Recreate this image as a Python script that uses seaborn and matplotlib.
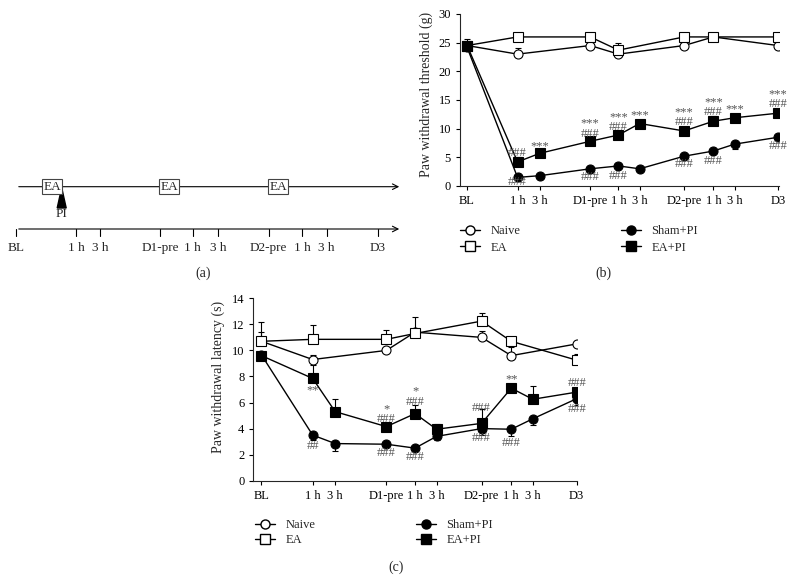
import numpy as np
import pandas as pd
import matplotlib
matplotlib.use("Agg")
import matplotlib.pyplot as plt
from matplotlib.lines import Line2D
from matplotlib.patches import Polygon
import seaborn as sns

nan = np.nan

# time points shared by all panels
time_labels = ["BL", "1 h", "3 h", "D1-pre", "1 h", "3 h", "D2-pre", "1 h", "3 h", "D3"]
x_pos = [0, 5.0, 7.2, 12.2, 15.0, 17.1, 21.5, 24.4, 26.5, 30.8]
groups = ["Naive", "EA", "Sham+PI", "EA+PI"]

# (b) paw withdrawal threshold (g)
naive_b = [24.5, 23.0, nan, 24.5, 23.0, nan, 24.5, 26.0, nan, 24.5]
naive_b_lo = [0, 0, nan, 0, 0, nan, 0, 0, nan, 0]
naive_b_hi = [0, 1.0, nan, 0, 0, nan, 0, 0, nan, 0]
ea_b = [24.5, 26.0, nan, 26.0, 23.7, nan, 26.0, 26.0, nan, 26.0]
ea_b_lo = [0, 0, nan, 0, 0, nan, 0, 0, nan, 0]
ea_b_hi = [1.1, 0, nan, 0, 1.3, nan, 0, 0, nan, 0]
sham_b = [24.2, 1.5, 1.8, 3.0, 3.5, 3.0, 5.2, 6.1, 7.3, 8.5]
sham_b_lo = [0, 0.5, 0.6, 0, 0, 0, 0, 0, 0.8, 0]
sham_b_hi = [0, 0, 0, 0.5, 0.5, 0, 0.4, 0.4, 0, 0.3]
eapi_b = [24.5, 4.2, 5.7, 7.8, 8.9, 10.9, 9.6, 11.3, 11.9, 12.7]
eapi_b_lo = [0, 0, 0, 0, 0, 0, 0, 0, 0, 0]
eapi_b_hi = [0, 0.9, 0.4, 0.4, 0.3, 0.3, 0.4, 0.9, 0.3, 0.8]
annot_b = [(1, 5.7, "###"), (1, 0.7, "###"), (2, 7.0, "***"),
           (3, 10.0, "***\n###"), (3, 1.6, "###"),
           (4, 11.2, "***\n###"), (4, 1.8, "###"),
           (5, 12.3, "***"), (6, 12.0, "***\n###"), (6, 3.8, "###"),
           (7, 13.8, "***\n###"), (7, 4.4, "###"), (8, 13.4, "***"),
           (9, 15.2, "***\n###"), (9, 6.9, "###")]

# (c) paw withdrawal latency (s)
naive_c = [10.7, 9.3, nan, 10.0, 11.4, nan, 11.0, 9.6, nan, 10.5]
naive_c_lo = [0, 0, nan, 0, 0, nan, 0, 0, nan, 0]
naive_c_hi = [0.75, 0.35, nan, 0, 0, nan, 0.5, 0.7, nan, 0]
ea_c = [10.7, 10.85, nan, 10.85, 11.3, nan, 12.25, 10.7, nan, 9.25]
ea_c_lo = [0, 0, nan, 0, 0, nan, 0, 0, nan, 0]
ea_c_hi = [1.5, 1.1, nan, 0.7, 1.25, nan, 0.65, 0, nan, 0.45]
sham_c = [9.65, 3.5, 2.85, 2.8, 2.5, 3.4, 4.0, 3.95, 4.75, 6.3]
sham_c_lo = [0, 0.4, 0.6, 0, 0, 0.25, 0.5, 0.55, 0.5, 0.5]
sham_c_hi = [0, 0, 0, 0, 0, 0, 0, 0, 0, 0]
eapi_c = [9.6, 7.85, 5.3, 4.15, 5.15, 3.95, 4.4, 7.1, 6.25, 6.8]
eapi_c_lo = [0, 0, 0, 0, 0, 0, 0, 0, 0, 0]
eapi_c_hi = [0, 1.05, 1.0, 0, 0.65, 0.4, 1.1, 0.35, 1.05, 0.2]
annot_c = [(1, 6.95, "**"), (1, 2.65, "##"),
           (3, 5.1, "*\n###"), (3, 2.1, "###"),
           (4, 6.45, "*\n###"), (4, 1.8, "###"),
           (6, 5.6, "###"), (6, 3.25, "###"),
           (7, 7.75, "**"), (7, 2.9, "###"),
           (9, 7.5, "###"), (9, 5.5, "###")]

# (a) timeline
a_pos = [16, 76, 100, 160, 192.7, 218.3, 268.7, 302.3, 326.7, 377.7]
ea_sessions = [52, 169, 278]
pi_x = 61.7

styles = {"Naive": ("o", "white"), "EA": ("s", "white"),
          "Sham+PI": ("o", "black"), "EA+PI": ("s", "black")}

FS = 10
TFS = 9


def long_frame(series):
    rows = []
    for g, (vals, lo, hi) in series.items():
        for i, v in enumerate(vals):
            if not np.isnan(v):
                rows.append(dict(group=g, t=x_pos[i], value=v, lo=lo[i], hi=hi[i]))
    return pd.DataFrame(rows)


def draw_panel(ax, df, annots, ylim, yticks, ylabel, xlim, label_xy):
    for g in groups:
        sub = df[df.group == g]
        ax.errorbar(sub.t, sub.value, yerr=[sub.lo, sub.hi], fmt="none",
                    ecolor="k", elinewidth=0.8, capsize=2.5, capthick=0.8, zorder=2)
        mk, fc = styles[g]
        sns.lineplot(data=sub, x="t", y="value", ax=ax, color="k", marker=mk,
                     mfc=fc, mec="k", mew=0.8, ms=6.5, linewidth=1,
                     errorbar=None, zorder=3)
    for i, y, s in annots:
        ax.text(x_pos[i], y, s, ha="center", va="center", fontsize=9,
                color="#555555", linespacing=0.75)
    ax.set_xlim(*xlim)
    ax.set_ylim(*ylim)
    ax.set_yticks(yticks)
    ax.set_xticks(x_pos, time_labels)
    ax.set_xlabel("")
    ax.set_ylabel(ylabel, fontsize=10)
    ax.yaxis.set_label_coords(*label_xy)
    ax.tick_params(direction="out", length=3, width=0.8, labelsize=TFS, colors="k")
    for sp in ["left", "bottom"]:
        ax.spines[sp].set_linewidth(0.8)
    sns.despine(ax=ax)
    handles = []
    for g in groups:
        mk, fc = styles[g]
        handles.append(Line2D([], [], color="k", lw=1, marker=mk, mfc=fc, mec="k", ms=6.5))
    return handles


sns.set_style("ticks")
plt.rcParams["font.family"] = ["Liberation Serif", "DejaVu Serif"]

fig = plt.figure(figsize=(7.96, 5.81), dpi=100)

# overlay in pixel coordinates for panel (a) and panel letters
ax0 = fig.add_axes([0, 0, 1, 1])
ax0.set_xlim(0, 796)
ax0.set_ylim(581, 0)
ax0.axis("off")

y_top, y_bot = 186.7, 229
ax0.annotate("", xy=(402, y_top), xytext=(16, y_top),
             arrowprops=dict(arrowstyle="->", lw=0.8, color="k"))
ax0.annotate("", xy=(402, y_bot), xytext=(16, y_bot),
             arrowprops=dict(arrowstyle="->", lw=0.8, color="k"))
for xe in ea_sessions:
    ax0.text(xe, y_top, "EA", ha="center", va="center", fontsize=9.5,
             bbox=dict(boxstyle="square,pad=0.1", fc="white", ec="#444444", lw=0.8))
ax0.add_patch(Polygon([[pi_x, y_top + 1], [pi_x - 4.5, 208], [pi_x + 4.5, 208]],
                      closed=True, fc="black", ec="black"))
ax0.text(pi_x, 214, "PI", ha="center", va="center", fontsize=9.5)
for xp, lab in zip(a_pos, time_labels):
    ax0.plot([xp, xp], [y_bot, y_bot + 7], color="k", lw=0.8)
    ax0.text(xp, 248, lab, ha="center", va="center", fontsize=9.5)
ax0.text(203, 273, "(a)", ha="center", va="center", fontsize=FS)
ax0.text(603, 273, "(b)", ha="center", va="center", fontsize=FS)
ax0.text(396, 567, "(c)", ha="center", va="center", fontsize=FS)

# (b)
df_b = long_frame({"Naive": (naive_b, naive_b_lo, naive_b_hi),
                   "EA": (ea_b, ea_b_lo, ea_b_hi),
                   "Sham+PI": (sham_b, sham_b_lo, sham_b_hi),
                   "EA+PI": (eapi_b, eapi_b_lo, eapi_b_hi)})
ax_b = fig.add_axes([460 / 796, 1 - 186 / 581, 318.5 / 796, 172 / 581])
h = draw_panel(ax_b, df_b, annot_b, (0, 30), range(0, 31, 5),
               "Paw withdrawal threshold (g)", (-0.7, 30.85), (-0.085, 0.53))
ax_b.legend(h, groups, ncol=2, frameon=False, loc="upper left",
            bbox_to_anchor=(449 / 796, 1 - 214 / 581), bbox_transform=fig.transFigure,
            handlelength=1.6, handletextpad=0.8, columnspacing=8.1,
            labelspacing=0.35, fontsize=9)

# (c)
df_c = long_frame({"Naive": (naive_c, naive_c_lo, naive_c_hi),
                   "EA": (ea_c, ea_c_lo, ea_c_hi),
                   "Sham+PI": (sham_c, sham_c_lo, sham_c_hi),
                   "EA+PI": (eapi_c, eapi_c_lo, eapi_c_hi)})
ax_c = fig.add_axes([253.3 / 796, 1 - 480.7 / 581, 324 / 796, 182.4 / 581])
h = draw_panel(ax_c, df_c, annot_c, (0, 14), range(0, 15, 2),
               "Paw withdrawal latency (s)", (-0.8, 30.85), (-0.088, 0.57))
ax_c.legend(h, groups, ncol=2, frameon=False, loc="upper left",
            bbox_to_anchor=(244 / 796, 1 - 508 / 581), bbox_transform=fig.transFigure,
            handlelength=1.6, handletextpad=0.8, columnspacing=8.1,
            labelspacing=0.25, fontsize=9)

fig.savefig("out.png", dpi=100)
